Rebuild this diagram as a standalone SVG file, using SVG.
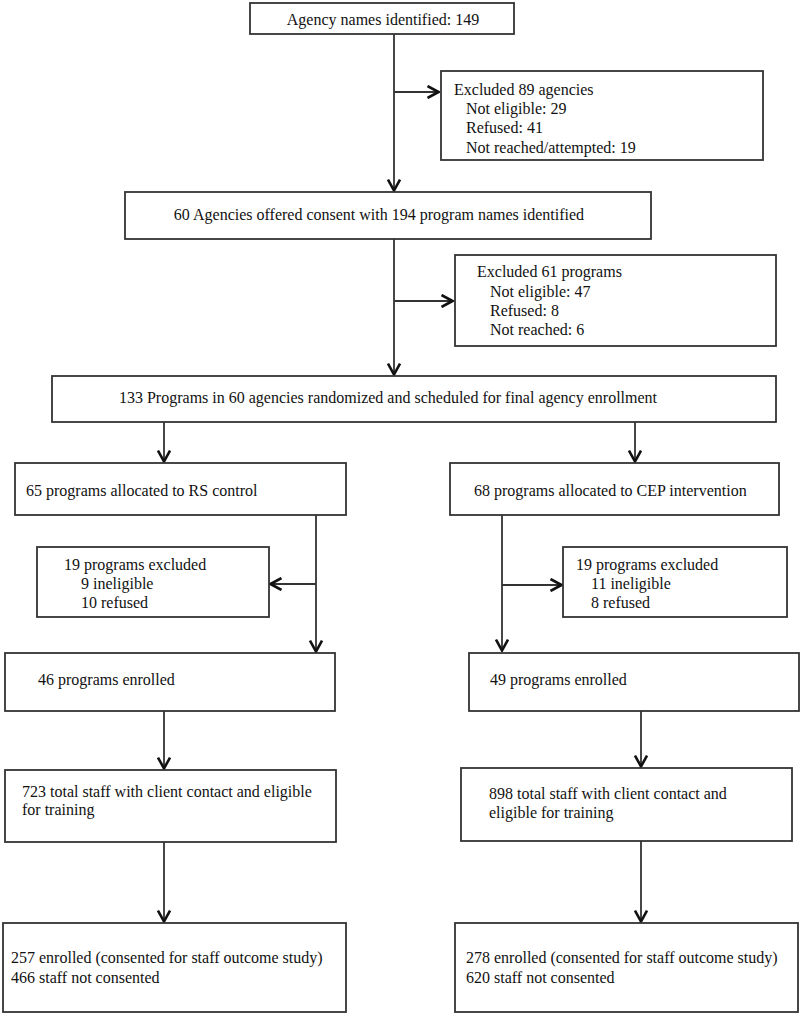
<svg xmlns="http://www.w3.org/2000/svg" width="800" height="1014" viewBox="0 0 800 1014">
<style>
.box{fill:#fff;stroke:#333;stroke-width:1.8}
.t{font-family:"Liberation Serif","Times New Roman",serif;font-size:16px;fill:#111}
.c{text-anchor:middle}
.ln{fill:none;stroke:#333;stroke-width:1.8}
</style>
<defs>
<marker id="ah" viewBox="0 0 14 14" refX="13" refY="7" markerWidth="14" markerHeight="14" markerUnits="userSpaceOnUse" orient="auto">
<path d="M1.5,1 L12.5,7 L1.5,13" fill="none" stroke="#111" stroke-width="2.6"/>
</marker>
</defs>
<rect width="800" height="1014" fill="#fff"/>
<g id="connectors">
<path class="ln" d="M394,34 V191" marker-end="url(#ah)"/>
<path class="ln" d="M394,92 H439" marker-end="url(#ah)"/>
<path class="ln" d="M394,239 V375" marker-end="url(#ah)"/>
<path class="ln" d="M394,301 H453" marker-end="url(#ah)"/>
<path class="ln" d="M164,422 V462" marker-end="url(#ah)"/>
<path class="ln" d="M635,422 V462" marker-end="url(#ah)"/>
<path class="ln" d="M316,515 V652" marker-end="url(#ah)"/>
<path class="ln" d="M316,584 H270" marker-end="url(#ah)"/>
<path class="ln" d="M502,515 V651" marker-end="url(#ah)"/>
<path class="ln" d="M502,585 H562" marker-end="url(#ah)"/>
<path class="ln" d="M164,711 V769" marker-end="url(#ah)"/>
<path class="ln" d="M641,711 V767" marker-end="url(#ah)"/>
<path class="ln" d="M164,842 V922" marker-end="url(#ah)"/>
<path class="ln" d="M641,841 V922" marker-end="url(#ah)"/>
</g>
<g id="n1"><rect class="box" x="250" y="3" width="264" height="31"/><text class="t c" x="383" y="25">Agency names identified: 149</text></g>
<g id="n2"><rect class="box" x="441" y="71" width="322" height="89"/>
<text class="t" x="454" y="95">Excluded 89 agencies</text>
<text class="t" x="466" y="114">Not eligible: 29</text>
<text class="t" x="466" y="133">Refused: 41</text>
<text class="t" x="466" y="153">Not reached/attempted: 19</text></g>
<g id="n3"><rect class="box" x="125" y="192" width="526" height="47"/><text class="t c" x="379" y="220">60 Agencies offered consent with 194 program names identified</text></g>
<g id="n4"><rect class="box" x="455" y="255" width="321" height="91"/>
<text class="t" x="477" y="277">Excluded 61 programs</text>
<text class="t" x="490" y="297">Not eligible: 47</text>
<text class="t" x="490" y="316">Refused: 8</text>
<text class="t" x="490" y="335">Not reached: 6</text></g>
<g id="n5"><rect class="box" x="52" y="376" width="724" height="46"/><text class="t c" x="388" y="403">133 Programs in 60 agencies randomized and scheduled for final agency enrollment</text></g>
<g id="n6"><rect class="box" x="15" y="463" width="331" height="52"/><text class="t" x="26" y="496">65 programs allocated to RS control</text></g>
<g id="n7"><rect class="box" x="450" y="463" width="329" height="52"/><text class="t" x="474" y="496">68 programs allocated to CEP intervention</text></g>
<g id="n8"><rect class="box" x="37" y="547" width="232" height="70"/>
<text class="t" x="64" y="570">19 programs excluded</text>
<text class="t" x="81" y="589">9 ineligible</text>
<text class="t" x="81" y="608">10 refused</text></g>
<g id="n9"><rect class="box" x="563" y="547" width="224" height="70"/>
<text class="t" x="576" y="570">19 programs excluded</text>
<text class="t" x="591" y="589">11 ineligible</text>
<text class="t" x="591" y="608">8 refused</text></g>
<g id="n10"><rect class="box" x="5" y="653" width="330" height="58"/><text class="t" x="38" y="685">46 programs enrolled</text></g>
<g id="n11"><rect class="box" x="469" y="653" width="330" height="58"/><text class="t" x="490" y="685">49 programs enrolled</text></g>
<g id="n12"><rect class="box" x="5" y="770" width="331" height="72"/>
<text class="t" x="22" y="797">723 total staff with client contact and eligible</text>
<text class="t" x="22" y="815">for training</text></g>
<g id="n13"><rect class="box" x="461" y="768" width="331" height="73"/>
<text class="t" x="489" y="799">898 total staff with client contact and</text>
<text class="t" x="489" y="818">eligible for training</text></g>
<g id="n14"><rect class="box" x="3" y="923" width="343" height="89"/>
<text class="t" x="11" y="963">257 enrolled (consented for staff outcome study)</text>
<text class="t" x="11" y="983">466 staff not consented</text></g>
<g id="n15"><rect class="box" x="455" y="923" width="343" height="89"/>
<text class="t" x="466" y="963">278 enrolled (consented for staff outcome study)</text>
<text class="t" x="466" y="983">620 staff not consented</text></g>
</svg>
